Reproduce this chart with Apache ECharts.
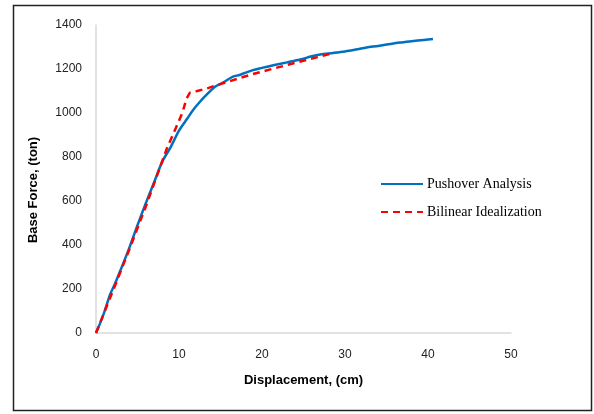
<!DOCTYPE html>
<html>
<head>
<meta charset="utf-8">
<script src="https://cdn.jsdelivr.net/npm/echarts@6/dist/echarts.min.js"></script>
<style>html,body{margin:0;padding:0;background:#fff}#c{width:594px;height:414px}</style>
</head>
<body>
<div id="c"></div>
<script>
var pushoverX = [0, 0.5, 1, 1.7, 2.3, 3, 4, 5, 6, 7, 8, 9, 10, 11, 11.7, 12.5, 13.3, 14.3, 15.3, 16.5, 17.3, 18.9, 20, 21.5, 23, 24.6, 26, 27, 28.6, 30, 31.5, 32.6, 34, 35.5, 36.6, 38, 39.5, 40.6];
var pushoverY = [0, 45, 95, 175, 225, 290, 386, 490, 590, 685, 780, 845, 920, 975, 1014, 1050, 1082, 1118, 1138, 1165, 1173, 1195, 1205, 1218, 1230, 1243, 1258, 1266, 1273, 1280, 1290, 1298, 1305, 1314, 1320, 1326, 1332, 1336];
var bilinearX = [0, 2, 4, 6, 8.5, 10.4, 10.9, 11.3, 12.2, 13.4, 14.6, 18.9, 23, 26.7, 28.6];
var bilinearY = [0, 188, 378, 575, 835, 1000, 1065, 1092, 1100, 1112, 1127, 1177, 1218, 1254, 1272];
var xTicks = [0, 10, 20, 30, 40, 50];
var yTicks = [0, 200, 400, 600, 800, 1000, 1200, 1400];

function pairs(xs, ys) { return xs.map(function (x, i) { return [x, ys[i]]; }); }

var chart = echarts.init(document.getElementById('c'));
chart.setOption({
  animation: false,
  backgroundColor: '#fff',
  grid: { left: 96, right: 83, top: 25, bottom: 81 },
  xAxis: {
    type: 'value', min: xTicks[0], max: xTicks[xTicks.length - 1], interval: 10,
    name: 'Displacement, (cm)', nameLocation: 'middle', nameGap: 41,
    nameTextStyle: { fontFamily: 'Liberation Sans', fontWeight: 'bold', fontSize: 13, color: '#000' },
    axisLine: { show: true, lineStyle: { color: '#d9d9d9', width: 1.5 } },
    axisTick: { show: false },
    splitLine: { show: false },
    axisLabel: { fontFamily: 'Liberation Sans', fontSize: 12, color: '#222', margin: 16, formatter: function (v) { return String(v); } }
  },
  yAxis: {
    type: 'value', min: yTicks[0], max: yTicks[yTicks.length - 1], interval: 200,
    name: 'Base Force, (ton)', nameLocation: 'middle', nameGap: 56,
    nameTextStyle: { fontFamily: 'Liberation Sans', fontWeight: 'bold', fontSize: 13, color: '#000', padding: [0, 22, 0, 0] },
    axisLine: { show: true, lineStyle: { color: '#d9d9d9', width: 1.5 } },
    axisTick: { show: false },
    splitLine: { show: false },
    axisLabel: { fontFamily: 'Liberation Sans', fontSize: 12, color: '#222', margin: 14, formatter: function (v) { return String(v); } }
  },
  legend: {
    orient: 'vertical', left: 375, top: 172, itemWidth: 42, itemHeight: 10, itemGap: 14,
    itemStyle: { opacity: 0 },
    textStyle: { fontFamily: 'Liberation Serif', fontSize: 14, color: '#000', padding: [0, 0, 0, -1] },
    data: ['Pushover Analysis', 'Bilinear Idealization']
  },
  graphic: [{
    type: 'rect', silent: true,
    shape: { x: 13.5, y: 5.5, width: 578, height: 405 },
    style: { fill: 'none', stroke: '#222', lineWidth: 1.5 }
  }],
  series: [
    {
      name: 'Pushover Analysis', type: 'line', showSymbol: false, symbol: 'none', smooth: 0.3,
      data: pairs(pushoverX, pushoverY),
      lineStyle: { color: '#0070C0', width: 2.5 }, itemStyle: { color: '#0070C0' }, z: 2
    },
    {
      name: 'Bilinear Idealization', type: 'line', showSymbol: false, symbol: 'none',
      data: pairs(bilinearX, bilinearY),
      lineStyle: { color: '#FF0000', width: 2.5, type: [7, 5] }, itemStyle: { color: '#FF0000' }, z: 3
    }
  ]
});
</script>
</body>
</html>
